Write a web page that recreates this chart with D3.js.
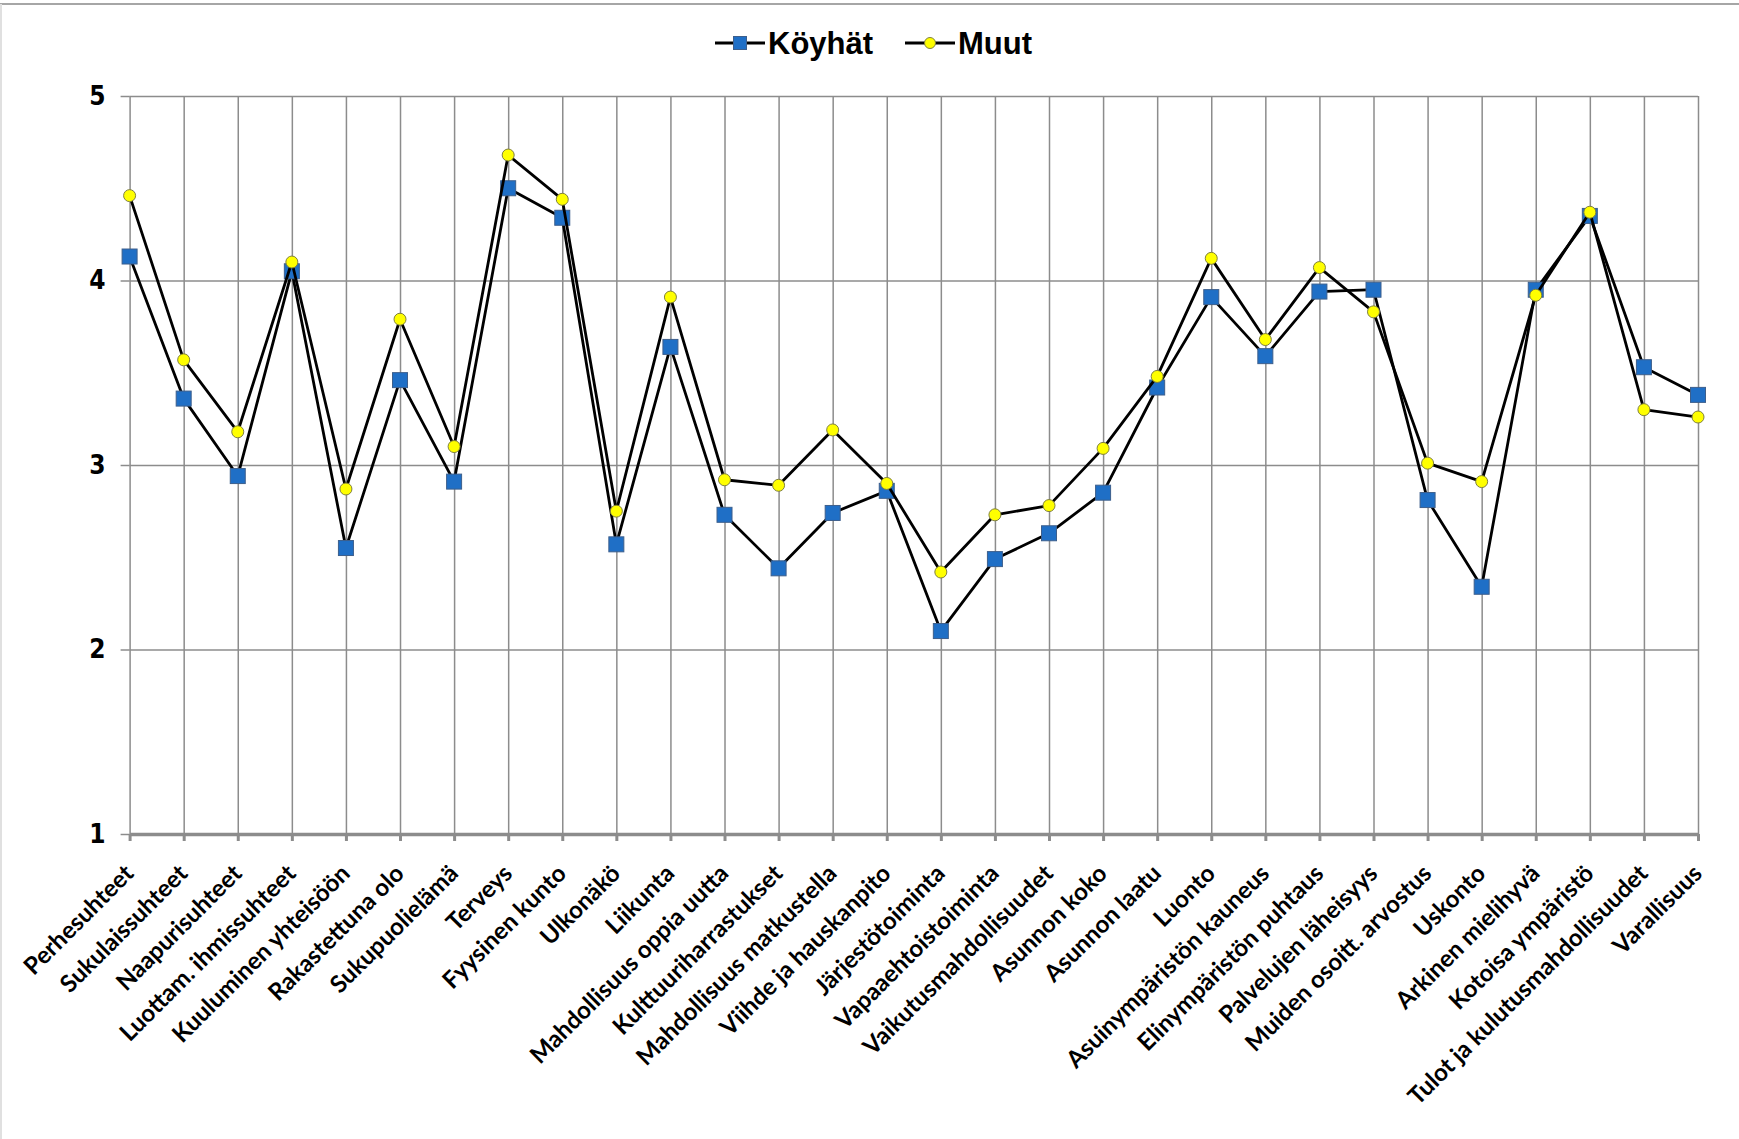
<!DOCTYPE html>
<html>
<head>
<meta charset="utf-8">
<script src="https://cdn.jsdelivr.net/npm/d3@7"></script>
<style>
  body { margin: 0; background: #fff; }
  svg { display: block; }
</style>
</head>
<body>
<div id="chart"></div>
<script>
const categories = [
  "Perhesuhteet", "Sukulaissuhteet", "Naapurisuhteet", "Luottam. ihmissuhteet",
  "Kuuluminen yhteisöön", "Rakastettuna olo", "Sukupuolielämä", "Terveys",
  "Fyysinen kunto", "Ulkonäkö", "Liikunta", "Mahdollisuus oppia uutta",
  "Kulttuuriharrastukset", "Mahdollisuus matkustella", "Viihde ja hauskanpito",
  "Järjestötoiminta", "Vapaaehtoistoiminta", "Vaikutusmahdollisuudet",
  "Asunnon koko", "Asunnon laatu", "Luonto", "Asuinympäristön kauneus",
  "Elinympäristön puhtaus", "Palvelujen läheisyys", "Muiden osoitt. arvostus",
  "Uskonto", "Arkinen mielihyvä", "Kotoisa ympäristö",
  "Tulot ja kulutusmahdollisuudet", "Varallisuus"
];

const koyhat = [
  4.13, 3.36, 2.94, 4.05, 2.55, 3.46, 2.91, 4.50, 4.34, 2.57,
  3.64, 2.73, 2.44, 2.74, 2.86, 2.10, 2.49, 2.63, 2.85, 3.42,
  3.91, 3.59, 3.94, 3.95, 2.81, 2.34, 3.95, 4.35, 3.53, 3.38
];

const muut = [
  4.46, 3.57, 3.18, 4.10, 2.87, 3.79, 3.10, 4.68, 4.44, 2.75,
  3.91, 2.92, 2.89, 3.19, 2.90, 2.42, 2.73, 2.78, 3.09, 3.48,
  4.12, 3.68, 4.07, 3.83, 3.01, 2.91, 3.92, 4.37, 3.30, 3.26
];

const seriesNames = ["Köyhät", "Muut"];
const yTicks = [1, 2, 3, 4, 5];

const width = 1739;
const height = 1139;
const margin = { top: 96, right: 41, bottom: 305, left: 129.6 };

const svg = d3.select("#chart")
  .append("svg")
  .attr("width", width)
  .attr("height", height);

// outer chart border (top and left visible)
svg.append("line")
  .attr("x1", 0).attr("x2", width)
  .attr("y1", 4).attr("y2", 4)
  .attr("stroke", "#a6a6a6").attr("stroke-width", 2);
svg.append("line")
  .attr("x1", 1).attr("x2", 1)
  .attr("y1", 4).attr("y2", height)
  .attr("stroke", "#e0e0e0").attr("stroke-width", 2);

const xScale = d3.scalePoint()
  .domain(categories)
  .range([margin.left, width - margin.right]);

const yScale = d3.scaleLinear()
  .domain([1, 5])
  .range([height - margin.bottom, margin.top]);

const gridColor = "#8c8c8c";

// horizontal gridlines
svg.append("g")
  .attr("transform", `translate(${margin.left}, 0)`)
  .call(d3.axisLeft(yScale).tickValues(yTicks.slice(1)).tickSize(-(width - margin.right - margin.left)).tickFormat(""))
  .call(g => g.select(".domain").remove())
  .selectAll("line")
  .attr("stroke", gridColor)
  .attr("stroke-width", 1.5);

// vertical gridlines
svg.append("g")
  .attr("transform", `translate(0, ${height - margin.bottom})`)
  .call(d3.axisBottom(xScale).tickSize(-(height - margin.bottom - margin.top)).tickFormat(""))
  .call(g => g.select(".domain").remove())
  .selectAll("line")
  .attr("stroke", gridColor)
  .attr("stroke-width", 1.5);

// y axis
svg.append("g")
  .attr("transform", `translate(${margin.left}, 0)`)
  .call(d3.axisLeft(yScale).tickValues(yTicks).tickSize(9).tickPadding(15).tickFormat(d3.format("d")))
  .call(g => g.select(".domain").remove())
  .call(g => g.selectAll("line").attr("stroke", gridColor).attr("stroke-width", 1.5))
  .selectAll("text")
  .attr("fill", "#000")
  .style("font-family", "'Liberation Sans Narrow', 'Arial Narrow', 'DejaVu Sans Condensed', sans-serif")
  .style("font-weight", "bold")
  .style("font-size", "26px");

// x axis
const xAxis = svg.append("g")
  .attr("transform", `translate(0, ${height - margin.bottom})`)
  .call(d3.axisBottom(xScale).tickSize(7).tickSizeOuter(0));

xAxis.select(".domain")
  .attr("stroke", "#8c8c8c")
  .attr("stroke-width", 3.5);

xAxis.selectAll(".tick line")
  .attr("stroke", gridColor)
  .attr("stroke-width", 3);

xAxis.selectAll("text")
  .attr("x", 0)
  .attr("y", 0)
  .attr("dy", "0.35em")
  .attr("transform", "translate(-1, 35) rotate(-45)")
  .style("text-anchor", "end")
  .attr("fill", "#000")
  .style("font-family", "Lato, 'Open Sans', sans-serif")
  .style("font-weight", "bold")
  .style("font-size", "24px");

// lines and markers
const line = d3.line()
  .x((d, i) => xScale(categories[i]))
  .y((d) => yScale(d));

const drawSeries = (values, kind) => {
  svg.append("path")
    .datum(values)
    .attr("fill", "none")
    .attr("stroke", "#000")
    .attr("stroke-width", 2.8)
    .attr("stroke-linejoin", "round")
    .attr("d", line);

  if (kind === "square") {
    svg.selectAll(".sq")
      .data(values)
      .enter()
      .append("rect")
      .attr("class", "sq")
      .attr("x", (d, i) => xScale(categories[i]) - 7.5)
      .attr("y", (d) => yScale(d) - 7.5)
      .attr("width", 15)
      .attr("height", 15)
      .attr("fill", "#1f6fc6")
      .attr("stroke", "#3d5f8c")
      .attr("stroke-width", 1);
  } else {
    svg.selectAll(".dot")
      .data(values)
      .enter()
      .append("circle")
      .attr("class", "dot")
      .attr("cx", (d, i) => xScale(categories[i]))
      .attr("cy", (d) => yScale(d))
      .attr("r", 6)
      .attr("fill", "#ffff00")
      .attr("stroke", "#7f7f3f")
      .attr("stroke-width", 1);
  }
};

drawSeries(koyhat, "square");
drawSeries(muut, "circle");

// legend
const legend = svg.append("g")
  .style("font-family", "'Liberation Sans', Arial, sans-serif")
  .style("font-weight", "bold")
  .style("font-size", "31px");

const legendItems = [
  { name: seriesNames[0], x: 715, kind: "square" },
  { name: seriesNames[1], x: 905, kind: "circle" }
];

legendItems.forEach((item) => {
  const g = legend.append("g").attr("transform", `translate(${item.x}, 43)`);
  g.append("line")
    .attr("x1", 0).attr("x2", 50)
    .attr("stroke", "#000").attr("stroke-width", 2.8);
  if (item.kind === "square") {
    g.append("rect")
      .attr("x", 18.5).attr("y", -6.5)
      .attr("width", 13).attr("height", 13)
      .attr("fill", "#1f6fc6").attr("stroke", "#3d5f8c");
  } else {
    g.append("circle")
      .attr("cx", 25).attr("r", 5.5)
      .attr("fill", "#ffff00").attr("stroke", "#7f7f3f");
  }
  g.append("text")
    .attr("x", 53)
    .attr("dy", "0.36em")
    .text(item.name);
});
</script>
</body>
</html>
